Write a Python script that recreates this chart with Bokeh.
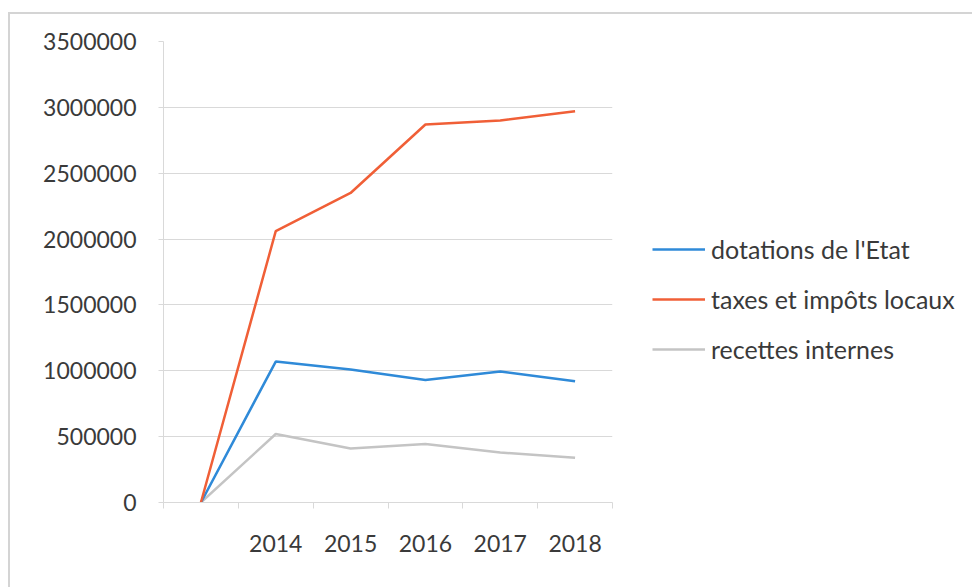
from bokeh.plotting import figure
from bokeh.models import (Range1d, LinearAxis, FixedTicker, ColumnDataSource,
                          Legend, LegendItem, BasicTickFormatter)
from bokeh.embed import file_html
from bokeh.resources import INLINE

categories = ["", "2014", "2015", "2016", "2017", "2018"]
dotations = [0, 1070000, 1010000, 930000, 995000, 920000]
taxes = [0, 2060000, 2350000, 2870000, 2900000, 2970000]
recettes = [0, 520000, 410000, 445000, 380000, 340000]
y_ticks = [0, 500000, 1000000, 1500000, 2000000, 2500000, 3000000, 3500000]

FONT = "Lato"
FS = "23px"
TXT = "#3a3a3a"
GRID = "#d9d9d9"

# category slot index -> position at the centre of each slot
xpos = [i + 0.5 for i in range(len(categories))]
src = ColumnDataSource(dict(x=xpos, dot=dotations, tax=taxes, rec=recettes))

p = figure(frame_width=449, frame_height=461, x_range=Range1d(0, len(categories)),
           y_range=Range1d(0, 3500000), output_backend="svg", toolbar_location=None,
           x_axis_location=None, y_axis_location=None,
           min_border_left=153, min_border_right=0, min_border_top=27, min_border_bottom=85)
p.styles = {"border-left": "2px solid #d4d4d4", "border-top": "2px solid #d4d4d4",
            "margin-left": "8px", "margin-top": "12px"}
p.outline_line_color = None
p.xgrid.grid_line_color = None
p.ygrid.grid_line_color = GRID
p.ygrid.ticker = FixedTicker(ticks=y_ticks)

yaxis = LinearAxis(ticker=FixedTicker(ticks=y_ticks),
                   formatter=BasicTickFormatter(use_scientific=False))
yaxis.axis_line_color = GRID
yaxis.major_tick_line_color = GRID
yaxis.major_tick_out = 5
yaxis.major_tick_in = 0
yaxis.minor_tick_line_color = None
yaxis.major_label_text_font = FONT
yaxis.major_label_text_font_size = FS
yaxis.major_label_text_color = TXT
yaxis.major_label_standoff = 22
p.add_layout(yaxis, "left")

# axis line with tick marks at the slot boundaries
tick_axis = LinearAxis(ticker=FixedTicker(ticks=list(range(len(categories) + 1))))
tick_axis.axis_line_color = GRID
tick_axis.major_tick_line_color = GRID
tick_axis.major_tick_out = 6
tick_axis.major_tick_in = 0
tick_axis.minor_tick_line_color = None
tick_axis.major_label_text_font_size = "0px"
tick_axis.major_label_text_alpha = 0
tick_axis.major_label_standoff = 0
p.add_layout(tick_axis, "below")

# category labels at slot centres
xaxis = LinearAxis(ticker=FixedTicker(ticks=xpos),
                   major_label_overrides={x: c for x, c in zip(xpos, categories)})
xaxis.axis_line_color = None
xaxis.major_tick_line_color = None
xaxis.minor_tick_line_color = None
xaxis.major_label_text_font = FONT
xaxis.major_label_text_font_size = FS
xaxis.major_label_text_color = TXT
xaxis.major_label_standoff = 20
p.add_layout(xaxis, "below")

r_rec = p.line("x", "rec", source=src, line_color="#c4c4c4", line_width=2.5)
r_dot = p.line("x", "dot", source=src, line_color="#2f8ad8", line_width=2.5)
r_tax = p.line("x", "tax", source=src, line_color="#f05f37", line_width=2.5)

legend = Legend(items=[LegendItem(label="dotations de l'Etat", renderers=[r_dot]),
                       LegendItem(label="taxes et impôts locaux", renderers=[r_tax]),
                       LegendItem(label="recettes internes", renderers=[r_rec])],
                location=(40, 138), orientation="vertical",
                glyph_width=53, glyph_height=20, label_height=20, spacing=20,
                label_standoff=6, padding=0, margin=0,
                label_text_font=FONT, label_text_font_size="25px", label_text_color=TXT,
                border_line_color=None, background_fill_alpha=0)
p.add_layout(legend, "right")

open("out.html", "w").write(file_html(p, INLINE))
